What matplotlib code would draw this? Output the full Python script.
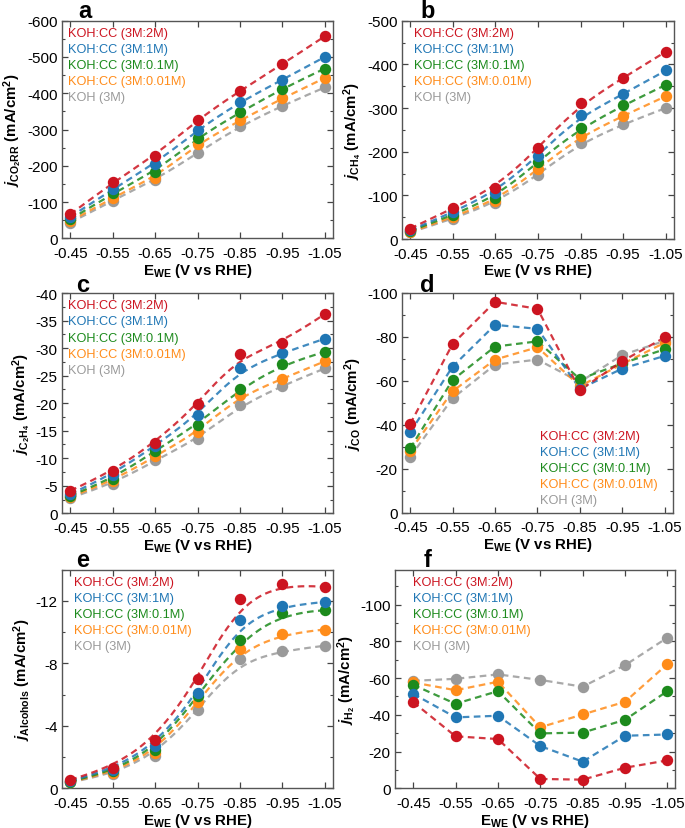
import numpy as np
import matplotlib
matplotlib.use("Agg")
import matplotlib.pyplot as plt
from matplotlib.ticker import AutoMinorLocator, FormatStrFormatter, MultipleLocator

plt.rcParams['font.family'] = ['Liberation Sans', 'DejaVu Sans']
plt.rcParams['axes.unicode_minus'] = False
plt.rcParams['mathtext.fontset'] = 'custom'
plt.rcParams['mathtext.rm'] = 'Liberation Sans:bold'
plt.rcParams['mathtext.it'] = 'Liberation Sans:italic:bold'
plt.rcParams['mathtext.bf'] = 'Liberation Sans:bold'

# ---------------- data ----------------
potentials = [-0.45, -0.55, -0.65, -0.75, -0.85, -0.95, -1.05]
series_names = ["KOH:CC (3M:2M)", "KOH:CC (3M:1M)", "KOH:CC (3M:0.1M)",
                "KOH:CC (3M:0.01M)", "KOH (3M)"]
series_colors = ["#cc1420", "#1f76b4", "#1c8a1c", "#ff8c1a", "#9a9a9a"]

j_co2rr = [
    [-66, -154, -227, -327, -407, -480, -557],
    [-59, -135, -205, -298, -377, -437, -500],
    [-52, -124, -182, -277, -347, -413, -468],
    [-47, -112, -166, -260, -325, -386, -442],
    [-43, -104, -160, -235, -310, -366, -416],
]
j_ch4 = [
    [-24, -70, -116, -208, -311, -369, -429],
    [-20, -61, -106, -191, -285, -331, -386],
    [-18, -55, -94, -177, -255, -306, -353],
    [-16, -50, -86, -160, -237, -282, -327],
    [-15, -46, -82, -147, -221, -263, -300],
]
j_c2h4 = [
    [-4.1, -7.6, -12.8, -19.8, -28.9, -30.9, -36.2],
    [-3.5, -7.0, -12.3, -17.8, -26.4, -29.1, -31.7],
    [-3.2, -6.2, -11.4, -16.1, -22.6, -27.1, -29.3],
    [-3.0, -5.8, -10.4, -14.7, -21.5, -24.4, -27.6],
    [-2.8, -5.3, -9.6, -13.5, -19.6, -23.2, -26.3],
]
j_co = [
    [-40.4, -76.8, -96.0, -92.8, -55.8, -69.0, -79.8],
    [-36.6, -66.5, -85.5, -83.7, -56.4, -65.6, -71.4],
    [-29.3, -60.4, -75.6, -78.0, -60.8, -68.0, -74.4],
    [-28.2, -55.3, -69.7, -75.3, -57.6, -67.7, -77.4],
    [-25.4, -52.1, -67.4, -69.7, -59.5, -71.8, -78.2],
]
j_alcohols = [
    [-0.55, -1.33, -3.07, -7.0, -12.1, -13.1, -12.9],
    [-0.47, -1.20, -2.70, -6.1, -10.8, -11.7, -11.93],
    [-0.43, -1.08, -2.45, -5.9, -9.5, -11.25, -11.4],
    [-0.40, -1.00, -2.25, -5.5, -8.9, -9.9, -10.17],
    [-0.38, -0.90, -2.10, -5.0, -8.26, -8.8, -9.13],
]
j_h2 = [
    [-46.9, -28.3, -26.8, -5.1, -4.7, -11.2, -15.2],
    [-51.4, -38.6, -39.5, -23.0, -14.5, -28.6, -29.3],
    [-56.3, -46.0, -52.9, -29.9, -30.3, -37.3, -52.9],
    [-57.6, -53.4, -58.0, -33.2, -40.2, -47.1, -67.6],
    [-58.5, -59.6, -62.0, -59.0, -55.3, -67.0, -82.0],
]

# ---------------- helpers ----------------
W, H = 685, 829
fig = plt.figure(figsize=(W / 100, H / 100), dpi=100)


def px_axes(l, t, r, b):
    return fig.add_axes([l / W, 1 - b / H, (r - l) / W, (b - t) / H])


def bspline(xs, ys, k=3, num=300):
    P = np.column_stack([xs, ys]).astype(float)
    n = len(P)
    t = np.concatenate([np.zeros(k), np.linspace(0, 1, n - k + 1), np.ones(k)])
    u = np.linspace(0, 1, num)
    u[-1] -= 1e-9
    B = np.array([[1.0 if t[i] <= uu < t[i + 1] else 0.0 for i in range(len(t) - 1)] for uu in u])
    for p in range(1, k + 1):
        Bn = np.zeros((len(u), len(t) - 1 - p))
        for i in range(len(t) - 1 - p):
            d1 = t[i + p] - t[i]
            d2 = t[i + p + 1] - t[i + 1]
            term = np.zeros(len(u))
            if d1 > 0:
                term += (u - t[i]) / d1 * B[:, i]
            if d2 > 0:
                term += (t[i + p + 1] - u) / d2 * B[:, i + 1]
            Bn[:, i] = term
        B = Bn
    C = B @ P
    return C[:, 0], C[:, 1]


def panel(rect, data, ymax, ystep, ylabel, letter, letter_xy, smooth,
          leg_loc, leg_anchor, xlim=(-0.43, -1.07)):
    ax = px_axes(*rect)
    handles = []
    for idx in range(len(data) - 1, -1, -1):
        vals = data[idx]
        c = series_colors[idx]
        if smooth:
            sx, sy = bspline(potentials, vals)
        else:
            sx, sy = potentials, vals
        ax.plot(sx, sy, ls=(0, (3, 2)), lw=1.6, color=c, alpha=0.85, zorder=2)
        h, = ax.plot(potentials, vals, 'o', ms=7.2, color=c, mec=c, label=series_names[idx], zorder=3)
        handles.append(h)
    handles = handles[::-1]
    ax.set_xlim(*xlim)
    ax.set_ylim(0, ymax)
    ax.set_xticks(potentials)
    ax.xaxis.set_major_formatter(FormatStrFormatter('%.2f'))
    ax.yaxis.set_major_locator(MultipleLocator(abs(ystep)))
    ax.yaxis.set_minor_locator(AutoMinorLocator(2))
    ax.tick_params(which='both', direction='in', top=True, right=True, labelsize=11,
                   color='#444444')
    ax.tick_params(axis='x', pad=5.5)
    ax.tick_params(axis='y', pad=3)
    ax.tick_params(which='major', length=4, width=0.9)
    ax.tick_params(which='minor', length=2.5, width=0.8)
    for s in ax.spines.values():
        s.set_color('#555555')
        s.set_linewidth(1.0)
    ax.set_xlabel(r'E$_{\mathrm{WE}}$ (V vs RHE)', fontsize=10.8, fontweight='bold', labelpad=0.5)
    ax.set_ylabel(ylabel, fontsize=10.8, fontweight='bold', labelpad=2)
    leg = ax.legend(handles=handles, loc=leg_loc, bbox_to_anchor=leg_anchor,
                    frameon=False, handlelength=0, handletextpad=0, labelspacing=0.32,
                    borderpad=0.2, borderaxespad=0.3, fontsize=9.2, labelcolor='linecolor')
    for lh in leg.legend_handles:
        lh.set_visible(False)
    fig.text(letter_xy[0] / W, 1 - letter_xy[1] / H, letter, fontsize=17, fontweight='bold',
             ha='center', va='center')
    return ax


panel((61.7, 21.7, 333.3, 239.3), j_co2rr, -600, -100,
      r'$j_{\mathrm{CO_2RR}}$ (mA/cm$^2$)', 'a', (85, 11), True, 'upper left', (0.0, 1.0))
panel((401.7, 21.7, 674.3, 240), j_ch4, -500, -100,
      r'$j_{\mathrm{CH_4}}$ (mA/cm$^2$)', 'b', (428, 11), True, 'upper left', (0.02, 1.0))
panel((61.7, 294, 333.3, 514.3), j_c2h4, -40, -5,
      r'$j_{\mathrm{C_2H_4}}$ (mA/cm$^2$)', 'c', (83, 285), True, 'upper left', (0.0, 1.0))
panel((401.7, 294, 673.3, 513.7), j_co, -100, -20,
      r'$j_{\mathrm{CO}}$ (mA/cm$^2$)', 'd', (427, 285), False, 'lower right', (0.965, 0.0))
panel((61.7, 570.7, 333.3, 789.3), j_alcohols, -14, -4,
      r'$j_{\mathrm{Alcohols}}$ (mA/cm$^2$)', 'e', (83, 561), True, 'upper left', (0.02, 1.0))
panel((395, 570.7, 675, 789.3), j_h2, -119, -20,
      r'$j_{\mathrm{H_2}}$ (mA/cm$^2$)', 'f', (428, 561), False, 'upper left', (0.04, 1.0),
      xlim=(-0.407, -1.068))

fig.savefig('out.png', dpi=100)
